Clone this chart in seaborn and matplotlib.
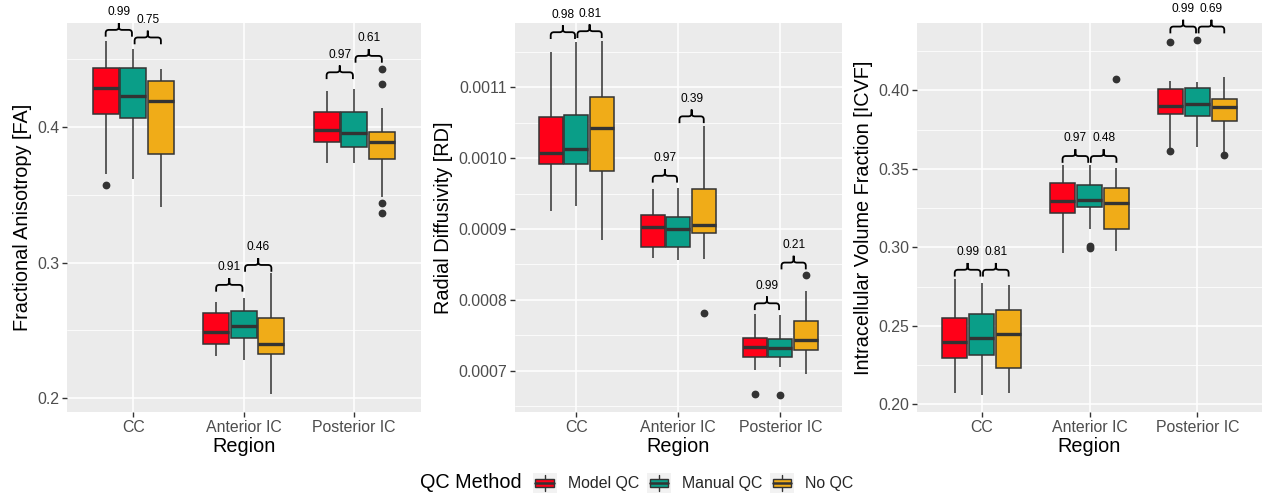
import numpy as np
import pandas as pd
import matplotlib
matplotlib.use("Agg")
import matplotlib.pyplot as plt
import seaborn as sns
from matplotlib.path import Path
from matplotlib.patches import PathPatch, Rectangle, Patch
from matplotlib.lines import Line2D
from matplotlib.legend_handler import HandlerBase
from matplotlib.ticker import MultipleLocator, AutoMinorLocator, FormatStrFormatter

# ---------------- data ----------------
regions = ["CC", "Anterior IC", "Posterior IC"]
methods = ["Model QC", "Manual QC", "No QC"]
colors = ["#FF0018", "#0A9E88", "#F0AC18"]

# five-number summaries [whisker low, Q1, median, Q3, whisker high] per region x method
fa_stats = [
    [[0.3653, 0.4094, 0.4286, 0.4433, 0.4635], [0.3614, 0.4064, 0.4229, 0.4433, 0.4576], [0.3412, 0.3798, 0.4192, 0.4339, 0.4428]],
    [[0.2310, 0.2401, 0.2489, 0.2625, 0.2706], [0.2280, 0.2440, 0.2534, 0.2644, 0.2740], [0.2027, 0.2327, 0.2396, 0.2588, 0.2920]],
    [[0.3732, 0.3892, 0.3978, 0.4113, 0.4263], [0.3732, 0.3855, 0.3958, 0.4113, 0.4278], [0.3481, 0.3764, 0.3892, 0.3961, 0.4138]],
]
fa_outliers = [
    [[0.3572], [], []],
    [[], [], []],
    [[], [], [0.4426, 0.4315, 0.3441, 0.3368]],
]
rd_stats = [
    [[0.0009255, 0.0009915, 0.0010079, 0.0010588, 0.0011499], [0.0009330, 0.0009915, 0.0010132, 0.0010612, 0.0011635], [0.0008844, 0.0009825, 0.0010424, 0.0010871, 0.0011649]],
    [[0.0008586, 0.0008741, 0.0009033, 0.0009198, 0.0009562], [0.0008562, 0.0008741, 0.0009004, 0.0009166, 0.0009584], [0.0008576, 0.0008939, 0.0009052, 0.0009562, 0.0010457]],
    [[0.0007016, 0.0007194, 0.0007335, 0.0007463, 0.0007798], [0.0007053, 0.0007194, 0.0007321, 0.0007440, 0.0007780], [0.0006959, 0.0007289, 0.0007430, 0.0007699, 0.0008127]],
]
rd_outliers = [
    [[], [], []],
    [[], [], [0.0007816]],
    [[0.0006676], [0.0006662], [0.0008350]],
]
icvf_stats = [
    [[0.2073, 0.2293, 0.2395, 0.2549, 0.2800], [0.2063, 0.2314, 0.2421, 0.2576, 0.2772], [0.2073, 0.2229, 0.2446, 0.2600, 0.2761]],
    [[0.2967, 0.3219, 0.3293, 0.3411, 0.3523], [0.3117, 0.3255, 0.3304, 0.3400, 0.3523], [0.2974, 0.3117, 0.3283, 0.3379, 0.3502]],
    [[0.3625, 0.3851, 0.3900, 0.4006, 0.4059], [0.3638, 0.3836, 0.3915, 0.4017, 0.4053], [0.3605, 0.3804, 0.3896, 0.3943, 0.4085]],
]
icvf_outliers = [
    [[], [], []],
    [[], [0.3008, 0.2998], [0.4070]],
    [[0.4305, 0.3612], [0.4319], [0.3590]],
]

# p-values of the pairwise comparisons (Model vs Manual, Manual vs No QC) per region
fa_pvals = [["0.99", "0.75"], ["0.91", "0.46"], ["0.97", "0.61"]]
rd_pvals = [["0.98", "0.81"], ["0.97", "0.39"], ["0.99", "0.21"]]
icvf_pvals = [["0.99", "0.81"], ["0.97", "0.48"], ["0.99", "0.69"]]
# y level of the bracket feet
fa_brace_y = [[0.4667, 0.4611], [0.2785, 0.2932], [0.4354, 0.4475]]
rd_brace_y = [[0.0011683, 0.0011697], [0.0009655, 0.0010495], [0.0007855, 0.0008430]]
icvf_brace_y = [[0.2814, 0.2814], [0.3538, 0.3538], [0.4362, 0.4362]]

ylabels = ["Fractional Anisotropy [FA]", "Radial Diffusivity [RD]", "Intracellular Volume Fraction [ICVF]"]
ylims = [(0.1897, 0.4768), (0.0006416, 0.0011909), (0.1952, 0.4428)]
ysteps = [0.1, 0.0001, 0.05]
yfmts = ["%.1f", "%.4f", "%.2f"]


def sample_from_summary(stats, outliers):
    """A sample made only of the read values whose box-plot statistics equal them."""
    lo, q1, med, q3, hi = stats
    low = sorted(v for v in outliers if v < lo)
    high = sorted(v for v in outliers if v > hi)
    k = 4
    return low + [lo] * (k - len(low)) + [q1] * k + [med] + [q3] * k + [hi] * (k - len(high)) + high


def build_frame(stats, outliers):
    rows = []
    for ri, reg in enumerate(regions):
        for mi, meth in enumerate(methods):
            for v in sample_from_summary(stats[ri][mi], outliers[ri][mi]):
                rows.append((reg, meth, v))
    return pd.DataFrame(rows, columns=["Region", "Method", "Value"])


# ---------------- style ----------------
sns.set_theme(style="darkgrid", rc={"axes.facecolor": "#EBEBEB", "grid.color": "white",
                                    "figure.facecolor": "white"})
plt.rcParams["font.family"] = ["Liberation Sans", "DejaVu Sans"]

fig = plt.figure(figsize=(12.64, 4.96), dpi=100)
positions = [
    [67 / 1264, 1 - 412 / 496, 353.5 / 1264, 389 / 496],
    [515 / 1264, 1 - 412 / 496, 326.5 / 1264, 389 / 496],
    [917 / 1264, 1 - 412 / 496, 345 / 1264, 389 / 496],
]


def draw_brace(ax, xa, xb, base, label):
    bb = ax.get_window_extent()
    xl, yl = ax.get_xlim(), ax.get_ylim()
    px = (xl[1] - xl[0]) / bb.width
    py = (yl[1] - yl[0]) / bb.height
    h = 6.8 * py
    rx, ry = 3.2 * px, 3.2 * py
    xm = (xa + xb) / 2
    line = base + h
    tip = base + 2 * h
    verts = [(xa, base), (xa, line - ry), (xa, line), (xa + rx, line),
             (xm - rx, line), (xm, line), (xm, line + ry), (xm, tip),
             (xm, tip), (xm, line + ry), (xm, line), (xm + rx, line),
             (xb - rx, line), (xb, line), (xb, line - ry), (xb, base)]
    codes = [Path.MOVETO, Path.LINETO, Path.CURVE3, Path.CURVE3,
             Path.LINETO, Path.CURVE3, Path.CURVE3, Path.LINETO,
             Path.MOVETO, Path.LINETO, Path.CURVE3, Path.CURVE3,
             Path.LINETO, Path.CURVE3, Path.CURVE3, Path.LINETO]
    ax.add_patch(PathPatch(Path(verts, codes), fill=False, edgecolor="black",
                           lw=1.3, clip_on=False, zorder=5))
    ax.text(xm, base + 24.5 * py, label, ha="center", va="center", fontsize=8.6,
            color="black", clip_on=False, zorder=5)


panels = [
    (fa_stats, fa_outliers, fa_pvals, fa_brace_y),
    (rd_stats, rd_outliers, rd_pvals, rd_brace_y),
    (icvf_stats, icvf_outliers, icvf_pvals, icvf_brace_y),
]

for i, (stats, outs, pvals, brace_y) in enumerate(panels):
    ax = fig.add_axes(positions[i])
    df = build_frame(stats, outs)
    sns.boxplot(data=df, x="Region", y="Value", hue="Method", order=regions,
                hue_order=methods, palette=colors, saturation=1, width=0.75, gap=0.06,
                linecolor="#333333", linewidth=1.1, fliersize=4.6, showcaps=False,
                medianprops=dict(linewidth=2.4),
                flierprops=dict(marker="o", markerfacecolor="#333333",
                                markeredgecolor="#333333"),
                legend=False, ax=ax)
    ax.set_xlim(-0.6, 2.6)
    ax.set_ylim(*ylims[i])
    ax.yaxis.set_major_locator(MultipleLocator(ysteps[i]))
    ax.yaxis.set_minor_locator(AutoMinorLocator(2))
    ax.yaxis.set_major_formatter(FormatStrFormatter(yfmts[i]))
    ax.grid(which="major", color="white", linewidth=1.1)
    ax.grid(which="minor", axis="y", color="white", linewidth=0.55)
    ax.set_axisbelow(True)
    for s in ax.spines.values():
        s.set_visible(False)
    ax.tick_params(which="major", length=3.5, width=1, color="#333333", pad=2,
                   labelsize=11.4, labelcolor="#4D4D4D", left=True, bottom=True)
    ax.tick_params(which="minor", length=0)
    ax.set_xlabel("Region", fontsize=14.3, color="black", labelpad=2)
    ax.set_ylabel(ylabels[i], fontsize=14.3, color="black", labelpad=4)

    off = 0.25
    for ri in range(len(regions)):
        draw_brace(ax, ri - off, ri - 0.012, brace_y[ri][0], pvals[ri][0])
        draw_brace(ax, ri + 0.012, ri + off, brace_y[ri][1], pvals[ri][1])


# ---------------- legend ----------------
class BoxKeyHandler(HandlerBase):
    def __init__(self, color):
        super().__init__()
        self.color = color

    def create_artists(self, legend, orig_handle, xdescent, ydescent, width, height,
                       fontsize, trans):
        x0, y0 = -xdescent, -ydescent
        bg = Rectangle((x0, y0), width, height, facecolor="#F2F2F2", edgecolor="none",
                       transform=trans)
        wl = Line2D([x0 + width / 2] * 2, [y0 + height * 0.1, y0 + height * 0.9],
                    color="#333333", lw=1.0, transform=trans)
        box = Rectangle((x0 + width * 0.12, y0 + height * 0.27), width * 0.76, height * 0.46,
                        facecolor=self.color, edgecolor="#333333", lw=1.0, transform=trans)
        med = Line2D([x0 + width * 0.12, x0 + width * 0.88], [y0 + height / 2] * 2,
                     color="#333333", lw=1.8, transform=trans)
        return [bg, wl, box, med]


handles = [Patch(facecolor=c, label=m) for c, m in zip(colors, methods)]
hmap = {h: BoxKeyHandler(c) for h, c in zip(handles, colors)}
fig.text(420 / 1264, 1 - 483 / 496, "QC Method", fontsize=14.3, color="black",
         ha="left", va="center")
fig.legend(handles=handles, labels=methods, handler_map=hmap, loc="center left",
           bbox_to_anchor=(532.5 / 1264, 1 - 483 / 496), ncol=3, frameon=False,
           fontsize=11.4, handlelength=1.52, handleheight=1.52, handletextpad=0.7,
           columnspacing=0.5, borderpad=0, borderaxespad=0)

fig.savefig("out.png", dpi=100)
